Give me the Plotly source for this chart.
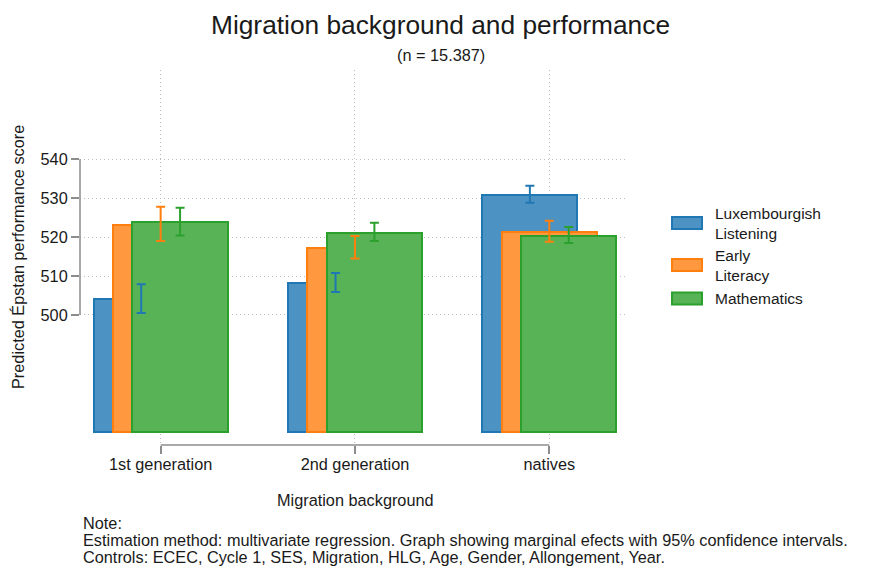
import plotly.graph_objects as go

# ---- data ----
categories = ["1st generation", "2nd generation", "natives"]
series_names = ["Luxembourgish Listening", "Early Literacy", "Mathematics"]
legend_labels = ["Luxembourgish<br>Listening", "Early<br>Literacy", "Mathematics"]
lux = [504.1, 508.3, 530.8]
lit = [523.2, 517.3, 521.4]
mat = [523.9, 521.1, 520.3]
lux_lo = [500.5, 505.9, 528.8]
lux_hi = [507.9, 510.8, 533.2]
lit_lo = [519.0, 514.5, 518.8]
lit_hi = [527.8, 520.3, 524.2]
mat_lo = [520.4, 519.0, 518.5]
mat_hi = [527.5, 523.7, 522.6]
y_ticks = [500, 510, 520, 530, 540]
bar_base = 470

# ---- styling ----
FONT = "Liberation Sans, Arial, Helvetica, sans-serif"
TXT = "#1a1a1a"
FS = 16.3
line_cols = ["#1f77b4", "#ff7f0e", "#2ca02c"]
fill_cols = ["#4c92c3", "#ff983e", "#57b356"]
offsets = [-0.1, 0.0, 0.1]
W, H = 873, 567
L, R, T, B = 80, 628, 70, 445


def px_x(p):
    return (p - L) / (R - L)


def px_y(p):
    return (B - p) / (B - T)


fig = go.Figure()
vals = [lux, lit, mat]
los = [lux_lo, lit_lo, mat_lo]
his = [lux_hi, lit_hi, mat_hi]

for k in range(3):
    xs = [i + offsets[k] for i in range(len(categories))]
    fig.add_trace(go.Bar(
        x=xs, y=[v - bar_base for v in vals[k]], base=bar_base,
        width=0.49, name=series_names[k],
        marker=dict(color=fill_cols[k], line=dict(color=line_cols[k], width=2)),
        showlegend=False,
    ))
for k in range(3):
    xs = [i + offsets[k] for i in range(len(categories))]
    fig.add_trace(go.Scatter(
        x=xs, y=vals[k], mode="markers",
        marker=dict(size=1, color="rgba(0,0,0,0)"),
        error_y=dict(type="data", symmetric=False,
                     array=[h - v for h, v in zip(his[k], vals[k])],
                     arrayminus=[v - l for l, v in zip(los[k], vals[k])],
                     color=line_cols[k], thickness=2, width=4.5),
        showlegend=False,
    ))

shapes = []
shapes.append(dict(type="line", xref="x", yref="paper", x0=0, x1=len(categories) - 1,
                   y0=0, y1=0, line=dict(color="#8c8c8c", width=1.5)))
shapes.append(dict(type="line", xref="paper", yref="y", x0=0, x1=0,
                   y0=y_ticks[0], y1=y_ticks[-1], line=dict(color="#8c8c8c", width=1.5)))

annotations = []
leg_y = [223, 265, 298.5]
for k in range(3):
    shapes.append(dict(type="rect", xref="paper", yref="paper",
                       x0=px_x(672), x1=px_x(702), y0=px_y(leg_y[k] - 6), y1=px_y(leg_y[k] + 6),
                       fillcolor=fill_cols[k], line=dict(color=line_cols[k], width=2)))
    annotations.append(dict(text=legend_labels[k], xref="paper", yref="paper", x=px_x(713),
                            y=px_y(leg_y[k]), xanchor="left", yanchor="middle", align="left",
                            showarrow=False, font=dict(size=15.5, color=TXT, family=FONT)))

annotations.append(dict(text="Migration background and performance", xref="paper", yref="paper",
                        x=px_x(440.5), y=px_y(25), xanchor="center", yanchor="middle",
                        showarrow=False, font=dict(size=26.3, color=TXT, family=FONT)))
annotations.append(dict(text="(n = 15.387)", xref="paper", yref="paper",
                        x=px_x(441), y=px_y(55), xanchor="center", yanchor="middle",
                        showarrow=False, font=dict(size=FS, color=TXT, family=FONT)))
annotations.append(dict(text="Predicted Épstan performance score", xref="paper", yref="paper",
                        x=px_x(18), y=px_y(257), xanchor="center", yanchor="middle", textangle=-90,
                        showarrow=False, font=dict(size=FS, color=TXT, family=FONT)))
annotations.append(dict(text="Migration background", xref="paper", yref="paper",
                        x=px_x(355), y=px_y(500), xanchor="center", yanchor="middle",
                        showarrow=False, font=dict(size=FS, color=TXT, family=FONT)))
note_lines = [
    "Note:",
    "Estimation method: multivariate regression. Graph showing marginal efects with 95% confidence intervals.",
    "Controls: ECEC, Cycle 1, SES, Migration, HLG, Age, Gender, Allongement, Year.",
]
for j, t in enumerate(note_lines):
    annotations.append(dict(text=t, xref="paper", yref="paper",
                            x=px_x(81), y=px_y(523 + 17 * j), xanchor="left", yanchor="middle",
                            showarrow=False, font=dict(size=FS, color=TXT, family=FONT)))

fig.update_layout(
    width=W, height=H, autosize=False,
    margin=dict(l=L, r=W - R, t=T, b=H - B, pad=0),
    paper_bgcolor="white", plot_bgcolor="white",
    barmode="overlay", bargap=0,
    font=dict(family=FONT, color=TXT, size=FS),
    shapes=shapes, annotations=annotations,
    showlegend=False,
    xaxis=dict(range=[-0.415, 2.405], tickmode="array", tickvals=list(range(len(categories))),
               ticktext=categories, showgrid=True, gridcolor="#bdbdbd", griddash="1px,3px", gridwidth=1,
               ticks="outside", ticklen=8, tickcolor="#8c8c8c", tickwidth=1.5,
               ticklabelstandoff=-4,
               showline=False, zeroline=False, tickfont=dict(size=FS, color=TXT)),
    yaxis=dict(range=[466.6, 562.9], tickmode="array", tickvals=y_ticks,
               showgrid=True, gridcolor="#bdbdbd", griddash="1px,3px", gridwidth=1,
               ticks="outside", ticklen=8, tickcolor="#8c8c8c", tickwidth=1.5,
               showline=False, zeroline=False, tickfont=dict(size=FS, color=TXT)),
)

fig.write_html("out.html", config={"displayModeBar": False},
               post_script="document.body.style.margin='0';")
